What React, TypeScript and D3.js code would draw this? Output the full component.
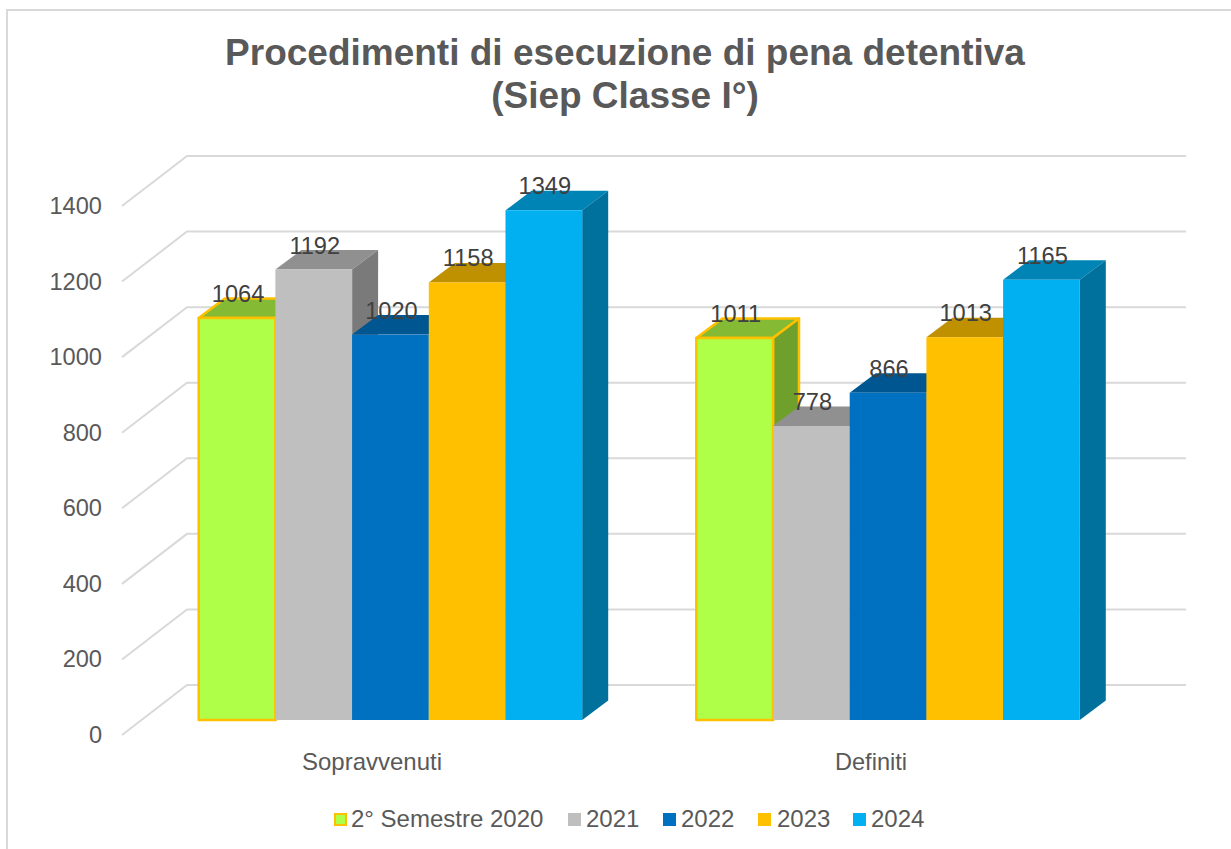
import React from "react";
import * as d3 from "d3";

const categories = ["Sopravvenuti", "Definiti"];
const seriesNames = ["2° Semestre 2020", "2021", "2022", "2023", "2024"];
const sopravvenuti = [1064, 1192, 1020, 1158, 1349];
const definiti = [1011, 778, 866, 1013, 1165];
const yTicks = [0, 200, 400, 600, 800, 1000, 1200, 1400];
const titleLines = ["Procedimenti di esecuzione di pena detentiva", "(Siep Classe I°)"];
const frontColors = ["#AFFF48", "#BFBFBF", "#0070C0", "#FFC000", "#00B0F0"];
const topColors = ["#85BA35", "#909090", "#005690", "#BF9000", "#0084B6"];
const sideColors = ["#6FA02C", "#7A7A7A", "#004A7C", "#A67D00", "#00719C"];
const OUTLINE = "#FFC000";
const FONT = "'Liberation Sans', Arial, sans-serif";

const y = d3.scaleLinear().domain([0, 1400]).range([720, 191]);
const groupStart: Record<string, number> = { Sopravvenuti: 198.7, Definiti: 696.3 };
const BAR_W = 76.7;
const DX = 26;
const DY = 19.5;

function Bar({ x, v, i }: { x: number; v: number; i: number }) {
  const t = y(v);
  const b = y(0);
  const w = BAR_W;
  const outline = i === 0 ? OUTLINE : "none";
  const sw = i === 0 ? 2.5 : 0;
  return (
    <g strokeLinejoin="round">
      <polygon points={`${x},${t} ${x + DX},${t - DY} ${x + w + DX},${t - DY} ${x + w},${t}`} fill={topColors[i]} stroke={outline} strokeWidth={sw} />
      <polygon points={`${x + w},${t} ${x + w + DX},${t - DY} ${x + w + DX},${b - DY} ${x + w},${b}`} fill={sideColors[i]} stroke={outline} strokeWidth={sw} />
      <rect x={x} y={t} width={w} height={b - t} fill={frontColors[i]} stroke={outline} strokeWidth={sw} />
    </g>
  );
}

export default function App() {
  const data = [sopravvenuti, definiti];
  const legendX = [334, 568, 663, 758, 853];
  const legendTextX = [351, 586, 681, 777, 871];
  return (
    <svg width={1231} height={849} style={{ position: "absolute", left: 0, top: 0, background: "#fff" }} fontFamily={FONT}>
      <path d="M7,849 V10 H1231" fill="none" stroke="#D9D9D9" strokeWidth={2} />
      {titleLines.map((l, i) => (
        <text key={l} x={625} y={65 + i * 43} textAnchor="middle" fontSize={37} fontWeight="bold" fill="#595959">{l}</text>
      ))}
      {yTicks.map((t) => (
        <g key={t}>
          <polyline points={`122,${y(t) + 15} 187,${y(t) - 35} 1186,${y(t) - 35}`} fill="none" stroke="#D9D9D9" strokeWidth={2} />
          <text x={102} y={y(t) + 23} textAnchor="end" fontSize={23.6} fill="#595959">{t}</text>
        </g>
      ))}
      {categories.map((c, ci) => (
        <g key={c}>
          {data[ci].map((v, i) => <Bar key={i} x={groupStart[c] + i * BAR_W} v={v} i={i} />)}
        </g>
      ))}
      {categories.map((c, ci) => (
        <g key={c}>
          {data[ci].map((v, i) => (
            <text key={i} x={groupStart[c] + (i + 0.5) * BAR_W + 1} y={y(v) - 16} textAnchor="middle" fontSize={23.6} fill="#404040">{v}</text>
          ))}
          <text x={ci === 0 ? 372 : 871} y={770} textAnchor="middle" fontSize={24} fill="#595959" textLength={ci === 0 ? 140 : 72} lengthAdjust="spacingAndGlyphs">{c}</text>
        </g>
      ))}
      {seriesNames.map((s, i) => (
        <g key={s}>
          {i === 0
            ? <rect x={legendX[i] + 1} y={814} width={11} height={11} fill={frontColors[i]} stroke={OUTLINE} strokeWidth={2} />
            : <rect x={legendX[i]} y={813} width={13} height={13} fill={frontColors[i]} />}
          <text x={legendTextX[i]} y={827} fontSize={24} fill="#595959">{s}</text>
        </g>
      ))}
    </svg>
  );
}
